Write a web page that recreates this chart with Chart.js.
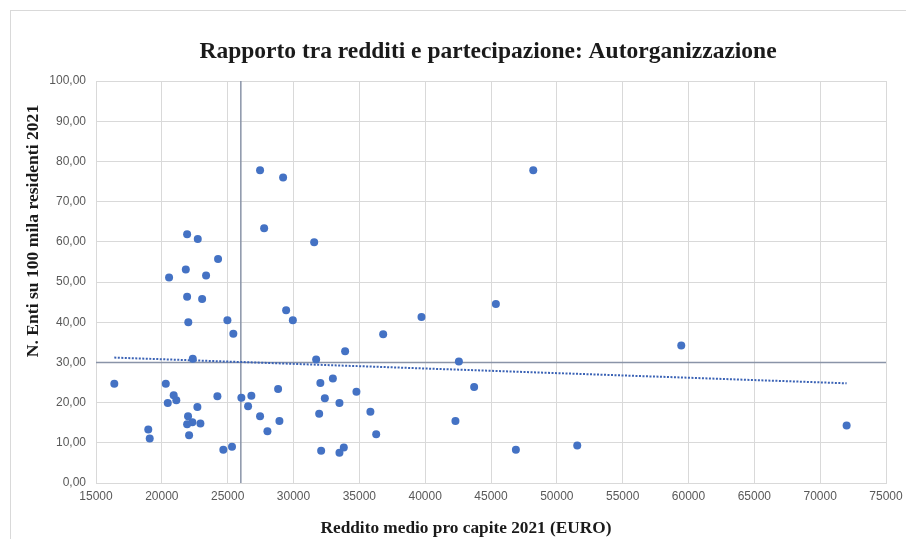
<!DOCTYPE html>
<html>
<head>
<meta charset="utf-8">
<script src="https://cdn.jsdelivr.net/npm/chart.js@4/dist/chart.umd.min.js"></script>
<style>
  html, body { margin: 0; padding: 0; background: #ffffff; }
  canvas { display: block; }
</style>
</head>
<body>
<canvas id="c" width="906" height="539"></canvas>
<script>
// ---- Data ----
const chartTitle = "Rapporto tra redditi e partecipazione: Autorganizzazione";
const xAxisTitle = "Reddito medio pro capite 2021 (EURO)";
const yAxisTitle = "N. Enti su 100 mila residenti 2021";

const incomeX = [16390, 18970, 19080, 20300, 20450, 20900, 21100, 20550, 21920, 22730,
                 21820, 23360, 24270, 21920, 23060, 22010, 24980, 25430, 22350, 22700,
                 21990, 21920, 22320, 22930, 22070, 24220, 24670, 25330, 26040, 26800,
                 26550, 27460, 28020, 28930, 28830, 27770, 29440, 29950, 27460, 29210,
                 31570, 36810, 39720, 33920, 31720, 32040, 32990, 34780, 32380, 33490,
                 31950, 35840, 36280, 32100, 33820, 33490, 48210, 45370, 42560, 43720,
                 42300, 46890, 51550, 59450, 72010];
const entiY   = [24.7, 13.3, 11.1, 24.7, 19.9, 21.8, 20.6, 51.1, 61.9, 60.7,
                 53.1, 51.6, 55.7, 46.3, 45.8, 40.0, 40.5, 37.1, 30.9, 18.9,
                 16.6, 14.6, 15.1, 14.8, 11.9, 21.6, 8.3, 9.0, 21.2, 21.7,
                 19.1, 16.6, 12.9, 15.4, 23.4, 63.4, 43.0, 40.5, 77.8, 76.0,
                 59.9, 37.0, 41.3, 32.8, 30.7, 24.9, 26.0, 22.7, 21.1, 19.9,
                 17.2, 17.7, 12.1, 8.0, 8.8, 7.5, 77.8, 44.5, 30.2, 23.9,
                 15.4, 8.3, 9.3, 34.2, 14.3];

// Linear trend line (endpoints)
const trendX = [16390, 72010];
const trendY = [31.2, 24.8];

// Reference lines (mean markers)
const refLineX = 26000;
const refLineY = 30;

// Axis ranges / ticks
const xMin = 15000, xMax = 75000, xStep = 5000;
const yMin = 0, yMax = 100, yStep = 10;

// ---- Build datasets ----
const points = incomeX.map((x, i) => ({ x: x, y: entiY[i] }));
const trendPts = trendX.map((x, i) => ({ x: x, y: trendY[i] }));
const vLine = [{ x: refLineX, y: yMin }, { x: refLineX, y: yMax }];
const hLine = [{ x: xMin, y: refLineY }, { x: xMax, y: refLineY }];

const textPlugin = {
  id: 'textPlugin',
  beforeDraw(chart) {
    const ctx = chart.ctx;
    ctx.save();
    ctx.fillStyle = '#ffffff';
    ctx.fillRect(0, 0, chart.width, chart.height);
    ctx.strokeStyle = '#d9d9d9';
    ctx.lineWidth = 1;
    ctx.strokeRect(10.5, 10.5, chart.width + 20, chart.height + 20);
    ctx.restore();
  },
  afterDraw(chart) {
    const ctx = chart.ctx;
    ctx.save();
    ctx.fillStyle = '#1a1a1a';
    ctx.textAlign = 'center';
    ctx.textBaseline = 'alphabetic';
    ctx.font = 'bold 23.5px "Liberation Serif"';
    ctx.fillText(chartTitle, 488, 58);
    ctx.font = 'bold 17.3px "Liberation Serif"';
    ctx.fillText(xAxisTitle, 466, 533);
    ctx.font = 'bold 17.6px "Liberation Serif"';
    ctx.translate(38, 231);
    ctx.rotate(-Math.PI / 2);
    ctx.fillText(yAxisTitle, 0, 0);
    ctx.restore();
  }
};

new Chart(document.getElementById('c'), {
  type: 'scatter',
  data: {
    datasets: [
      {
        label: 'Enti',
        data: points,
        backgroundColor: '#4472C4',
        borderColor: '#4472C4',
        pointRadius: 4,
        pointBorderWidth: 0,
        order: 1
      },
      {
        label: 'Trend',
        type: 'line',
        data: trendPts,
        borderColor: '#3a62b5',
        borderWidth: 2,
        borderDash: [2, 1.5],
        pointRadius: 0,
        fill: false,
        order: 2
      },
      {
        label: 'refX',
        type: 'line',
        data: vLine,
        borderColor: '#8a94a8',
        borderWidth: 1.5,
        pointRadius: 0,
        fill: false,
        order: 3
      },
      {
        label: 'refY',
        type: 'line',
        data: hLine,
        borderColor: '#8a94a8',
        borderWidth: 1.5,
        pointRadius: 0,
        fill: false,
        order: 3
      }
    ]
  },
  options: {
    responsive: false,
    animation: false,
    events: [],
    layout: { padding: { left: 0, top: 81, right: 20, bottom: 0 } },
    plugins: {
      legend: { display: false },
      title: { display: false },
      tooltip: { enabled: false }
    },
    scales: {
      x: {
        type: 'linear',
        min: xMin, max: xMax,
        grid: { color: '#d9d9d9', lineWidth: 1, drawTicks: false },
        border: { color: '#d9d9d9', width: 1 },
        ticks: {
          stepSize: xStep,
          padding: 6,
          color: '#595959',
          font: { family: '"Liberation Sans"', size: 12 },
          callback: v => String(v),
          maxRotation: 0
        },
        afterFit(scale) {
          scale.height = 56;
          scale.paddingLeft = 0; scale.paddingRight = 0;
        }
      },
      y: {
        type: 'linear',
        min: yMin, max: yMax,
        grid: { color: '#d9d9d9', lineWidth: 1, drawTicks: false },
        border: { color: '#d9d9d9', width: 1 },
        ticks: {
          stepSize: yStep,
          padding: 10,
          color: '#595959',
          font: { family: '"Liberation Sans"', size: 12 },
          callback: v => v.toFixed(2).replace('.', ',')
        },
        afterFit(scale) {
          scale.width = 96;
          scale.paddingTop = 0; scale.paddingBottom = 0;
        }
      }
    }
  },
  plugins: [textPlugin]
});
</script>
</body>
</html>
